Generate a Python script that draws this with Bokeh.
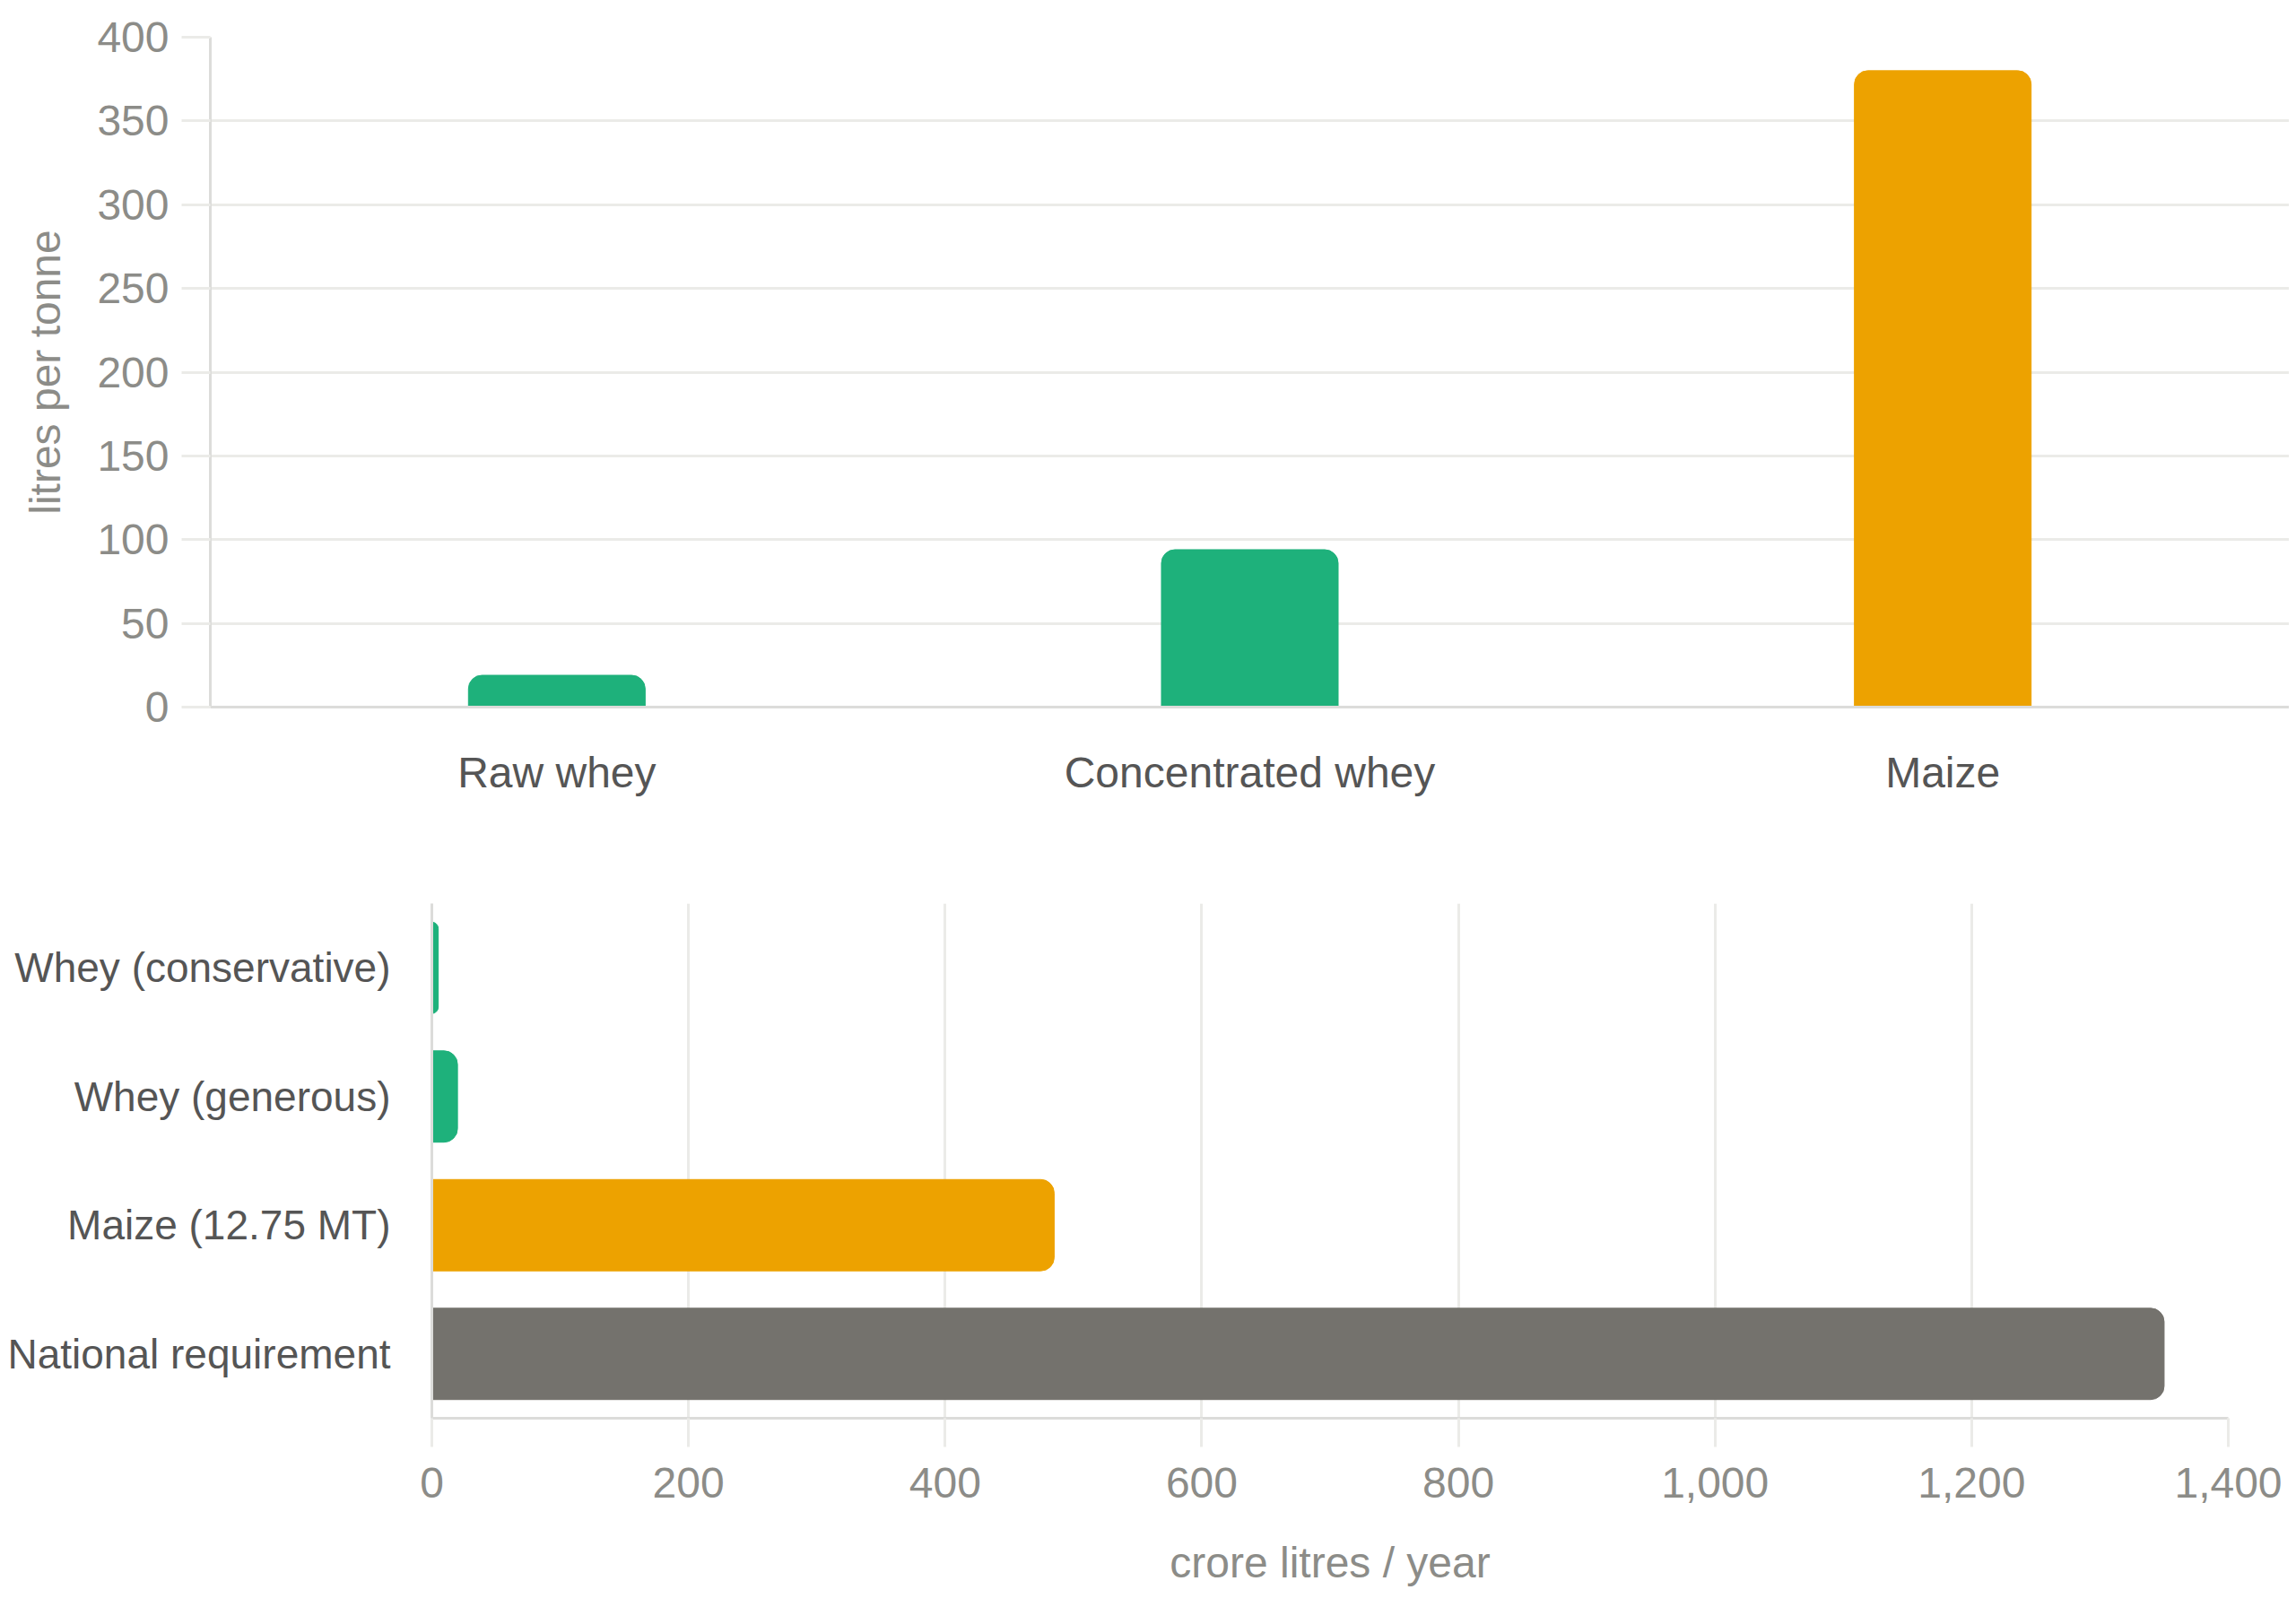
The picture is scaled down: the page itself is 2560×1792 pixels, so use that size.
from bokeh.plotting import figure
from bokeh.layouts import column
from bokeh.models import FactorRange, Range1d, SingleIntervalTicker, NumeralTickFormatter
from bokeh.embed import file_html
from bokeh.resources import INLINE

# yield per tonne of feedstock
yield_labels = ["Raw whey", "Concentrated whey", "Maize"]
yield_values = [19, 94, 380]
yield_colors = ["#1eb17b", "#1eb17b", "#eda200"]

# annual supply versus requirement
supply_labels = ["Whey (conservative)", "Whey (generous)", "Maize (12.75 MT)", "National requirement"]
supply_values = [5, 20, 485, 1350]
supply_colors = ["#1eb17b", "#1eb17b", "#eda200", "#74726d"]

FONT = "Liberation Sans"
TICK_GREY = "#8c8c88"
LABEL_DARK = "#555555"
GRID = "#ebebe8"
AXIS = "#dcdcda"


def style_axis(ax):
    ax.axis_line_color = AXIS
    ax.axis_line_width = 3
    ax.minor_tick_line_color = None
    ax.major_tick_in = 0
    ax.major_label_text_font = FONT
    ax.major_label_text_font_size = "48px"
    ax.axis_label_text_font = FONT
    ax.axis_label_text_font_size = "48px"
    ax.axis_label_text_font_style = "normal"
    ax.axis_label_text_color = TICK_GREY


# top: litres per tonne
p1 = figure(
    x_range=FactorRange(factors=yield_labels),
    y_range=Range1d(0, 400),
    width=2552,
    height=940,
    min_border_left=234,
    min_border_right=0,
    min_border_top=41,
    min_border_bottom=152,
    output_backend="svg",
    toolbar_location=None,
)
p1.frame_align = False
p1.vbar(x=yield_labels, top=yield_values, width=0.255, color=yield_colors,
        border_radius=(15, 15, 0, 0))

p1.outline_line_color = None
p1.xgrid.grid_line_color = None
p1.ygrid.grid_line_color = GRID
p1.ygrid.grid_line_width = 3
p1.yaxis.ticker = SingleIntervalTicker(interval=50, num_minor_ticks=0)
p1.yaxis.axis_label = "litres per tonne"

for ax in p1.xaxis + p1.yaxis:
    style_axis(ax)

p1.yaxis.major_tick_out = 32
p1.yaxis.major_tick_line_color = GRID
p1.yaxis.major_tick_line_width = 3
p1.yaxis.major_label_standoff = 14
p1.yaxis.major_label_text_color = TICK_GREY
p1.yaxis.axis_label_standoff = 28

p1.xaxis.major_tick_out = 0
p1.xaxis.major_tick_line_color = None
p1.xaxis.major_label_standoff = 46
p1.xaxis.major_label_text_color = LABEL_DARK

# bottom: crore litres / year
p2 = figure(
    y_range=FactorRange(factors=supply_labels[::-1]),
    x_range=Range1d(0, 1400),
    width=2552,
    height=844,
    min_border_left=481,
    min_border_right=68,
    min_border_top=67,
    min_border_bottom=203,
    output_backend="svg",
    toolbar_location=None,
)
p2.frame_align = False
p2.hbar(y=supply_labels, right=supply_values, height=0.71, color=supply_colors,
        border_radius=(0, 15, 15, 0))

p2.outline_line_color = None
p2.ygrid.grid_line_color = None
p2.xgrid.grid_line_color = GRID
p2.xgrid.grid_line_width = 3
p2.xaxis.ticker = SingleIntervalTicker(interval=200, num_minor_ticks=0)
p2.xaxis.formatter = NumeralTickFormatter(format="0,0")
p2.xaxis.axis_label = "crore litres / year"

for ax in p2.xaxis + p2.yaxis:
    style_axis(ax)

p2.xaxis.major_tick_out = 32
p2.xaxis.major_tick_line_color = GRID
p2.xaxis.major_tick_line_width = 3
p2.xaxis.major_label_standoff = 23
p2.xaxis.major_label_text_color = TICK_GREY
p2.xaxis.axis_label_standoff = 43

p2.yaxis.major_tick_out = 0
p2.yaxis.major_tick_line_color = None
p2.yaxis.major_label_standoff = 46
p2.yaxis.major_label_text_color = LABEL_DARK
p2.yaxis.major_label_text_font_size = "46px"

layout = column(p1, p2)

open("out.html", "w").write(file_html(layout, INLINE))
